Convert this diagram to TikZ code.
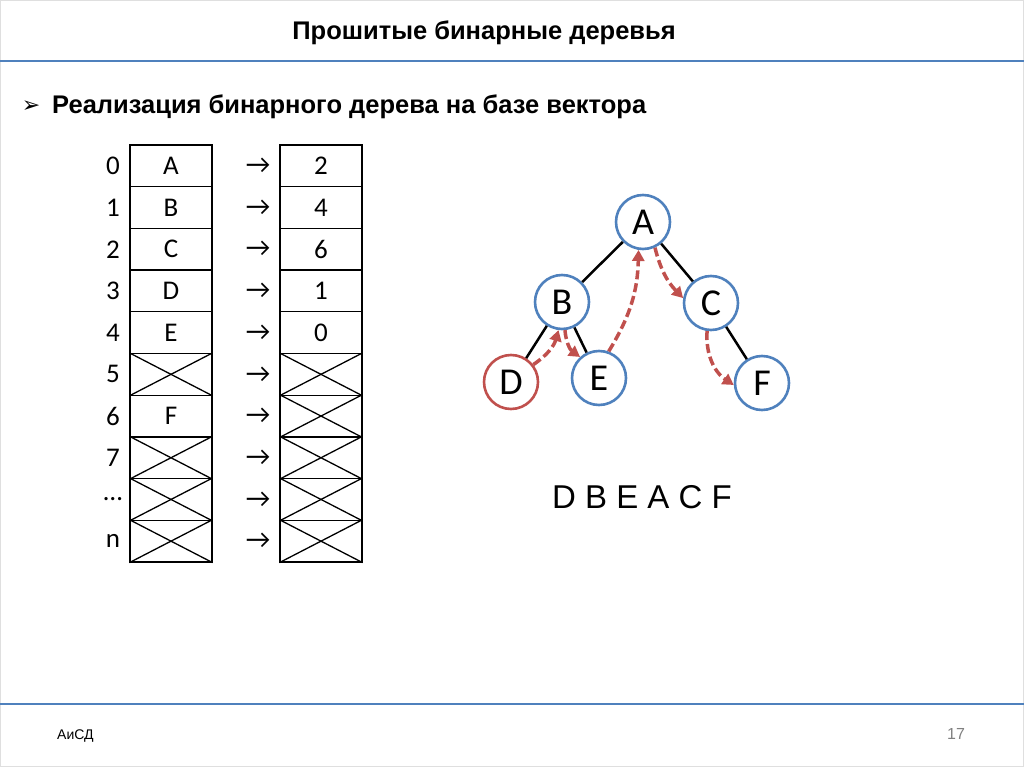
\documentclass[tikz,border=0pt]{standalone}
\usepackage{fontspec}
\setmainfont{Liberation Sans}
\newfontfamily\calibri{Carlito}
\newfontfamily\symfont{DejaVu Sans}
\usetikzlibrary{arrows.meta}

\definecolor{slideblue}{HTML}{4F81BD}
\definecolor{slidered}{HTML}{C0504D}

\tikzset{
  cell/.style={draw, line width=1.3pt, rectangle, minimum width=82pt, minimum height=41.7pt,
    font=\calibri\fontsize{27}{27}\selectfont},
  rowlabel/.style={font=\calibri\fontsize{27}{27}\selectfont},
  vertex/.style={circle, draw=slideblue, line width=2.6pt, fill=white, minimum size=54pt,
    font=\calibri\fontsize{38}{38}\selectfont},
  thread/.style={draw=slidered, line width=3.5pt, dash pattern=on 9pt off 4pt,
    -{Triangle[length=11pt,width=12pt]}},
  headline/.style={draw=slideblue, line width=2pt}
}

\begin{document}
\begin{tikzpicture}[x=1pt, y=-1pt, every node/.style={inner sep=0pt}]
    \useasboundingbox (0,0) rectangle (1024,767);
    \draw[gray!25] (0.5,0.5) rectangle (1023.5,766.5);

    % header
    \node (title) at (484,33) {\fontsize{25.5}{25.5}\selectfont\bfseries Прошитые бинарные деревья};
    \draw[headline] (0,61) -- (1024,61);
    \node (bullet) at (31,107) {\symfont\fontsize{22}{22}\selectfont ➢};
    \node[anchor=west] (subtitle) at (52,107) {\fontsize{25.5}{25.5}\selectfont\bfseries Реализация бинарного дерева на базе вектора};

    % vector
    \foreach \i/\t/\v/\n in {0/A/2/0, 1/B/4/1, 2/C/6/2, 3/D/1/3, 4/E/0/4,
                             5/{}/{}/5, 6/F/{}/6, 7/{}/{}/7, 8/{}/{}/…, 9/{}/{}/n} {
      \node[cell] (l\i) at (171,165.85+41.7*\i) {\t};
      \node[cell] (r\i) at (321,165.85+41.7*\i) {\v};
      \node[rowlabel] (idx\i) at (113,165.85+41.7*\i) {\n};
      \node[rowlabel] (arr\i) at (258,165.85+41.7*\i) {→};
    }
    % empty cells
    \foreach \i in {5,7,8,9} {
      \draw[line width=1.3pt] (l\i.north west) -- (l\i.south east);
      \draw[line width=1.3pt] (l\i.south west) -- (l\i.north east);
    }
    \foreach \i in {5,...,9} {
      \draw[line width=1.3pt] (r\i.north west) -- (r\i.south east);
      \draw[line width=1.3pt] (r\i.south west) -- (r\i.north east);
    }

    % tree
    \node[vertex] (a) at (643,222) {A};
    \node[vertex] (b) at (562,302) {B};
    \node[vertex] (c) at (711,303) {C};
    \node[vertex, draw=slidered] (d) at (511,382) {D};
    \node[vertex] (e) at (599,378) {E};
    \node[vertex] (f) at (762,383) {F};

    \draw[line width=2.5pt] (a) -- (b);
    \draw[line width=2.5pt] (a) -- (c);
    \draw[line width=2.5pt] (b) -- (d);
    \draw[line width=2.5pt] (b) -- (e);
    \draw[line width=2.5pt] (c) -- (f);

    % threads
    \draw[thread] (d.38) to[bend right=20] (b.-97);
    \draw[thread] (b.-84) to[bend right=25] (e.132);
    \draw[thread] (e.70) to[bend right=15] (a.-99);
    \draw[thread] (a.-65) to[bend right=15] (c.170);
    \draw[thread] (c.-98) to[bend right=30] (f.-176);

    \node (order) at (642,497) {\fontsize{33}{33}\selectfont D B E A C F};

    % footer
    \draw[headline] (0,704) -- (1024,704);
    \node[anchor=west] (course) at (57,736) {\fontsize{14}{14}\selectfont АиСД};
    \node (page) at (956,734) {\color{gray}\fontsize{16}{16}\selectfont 17};
\end{tikzpicture}
\end{document}
